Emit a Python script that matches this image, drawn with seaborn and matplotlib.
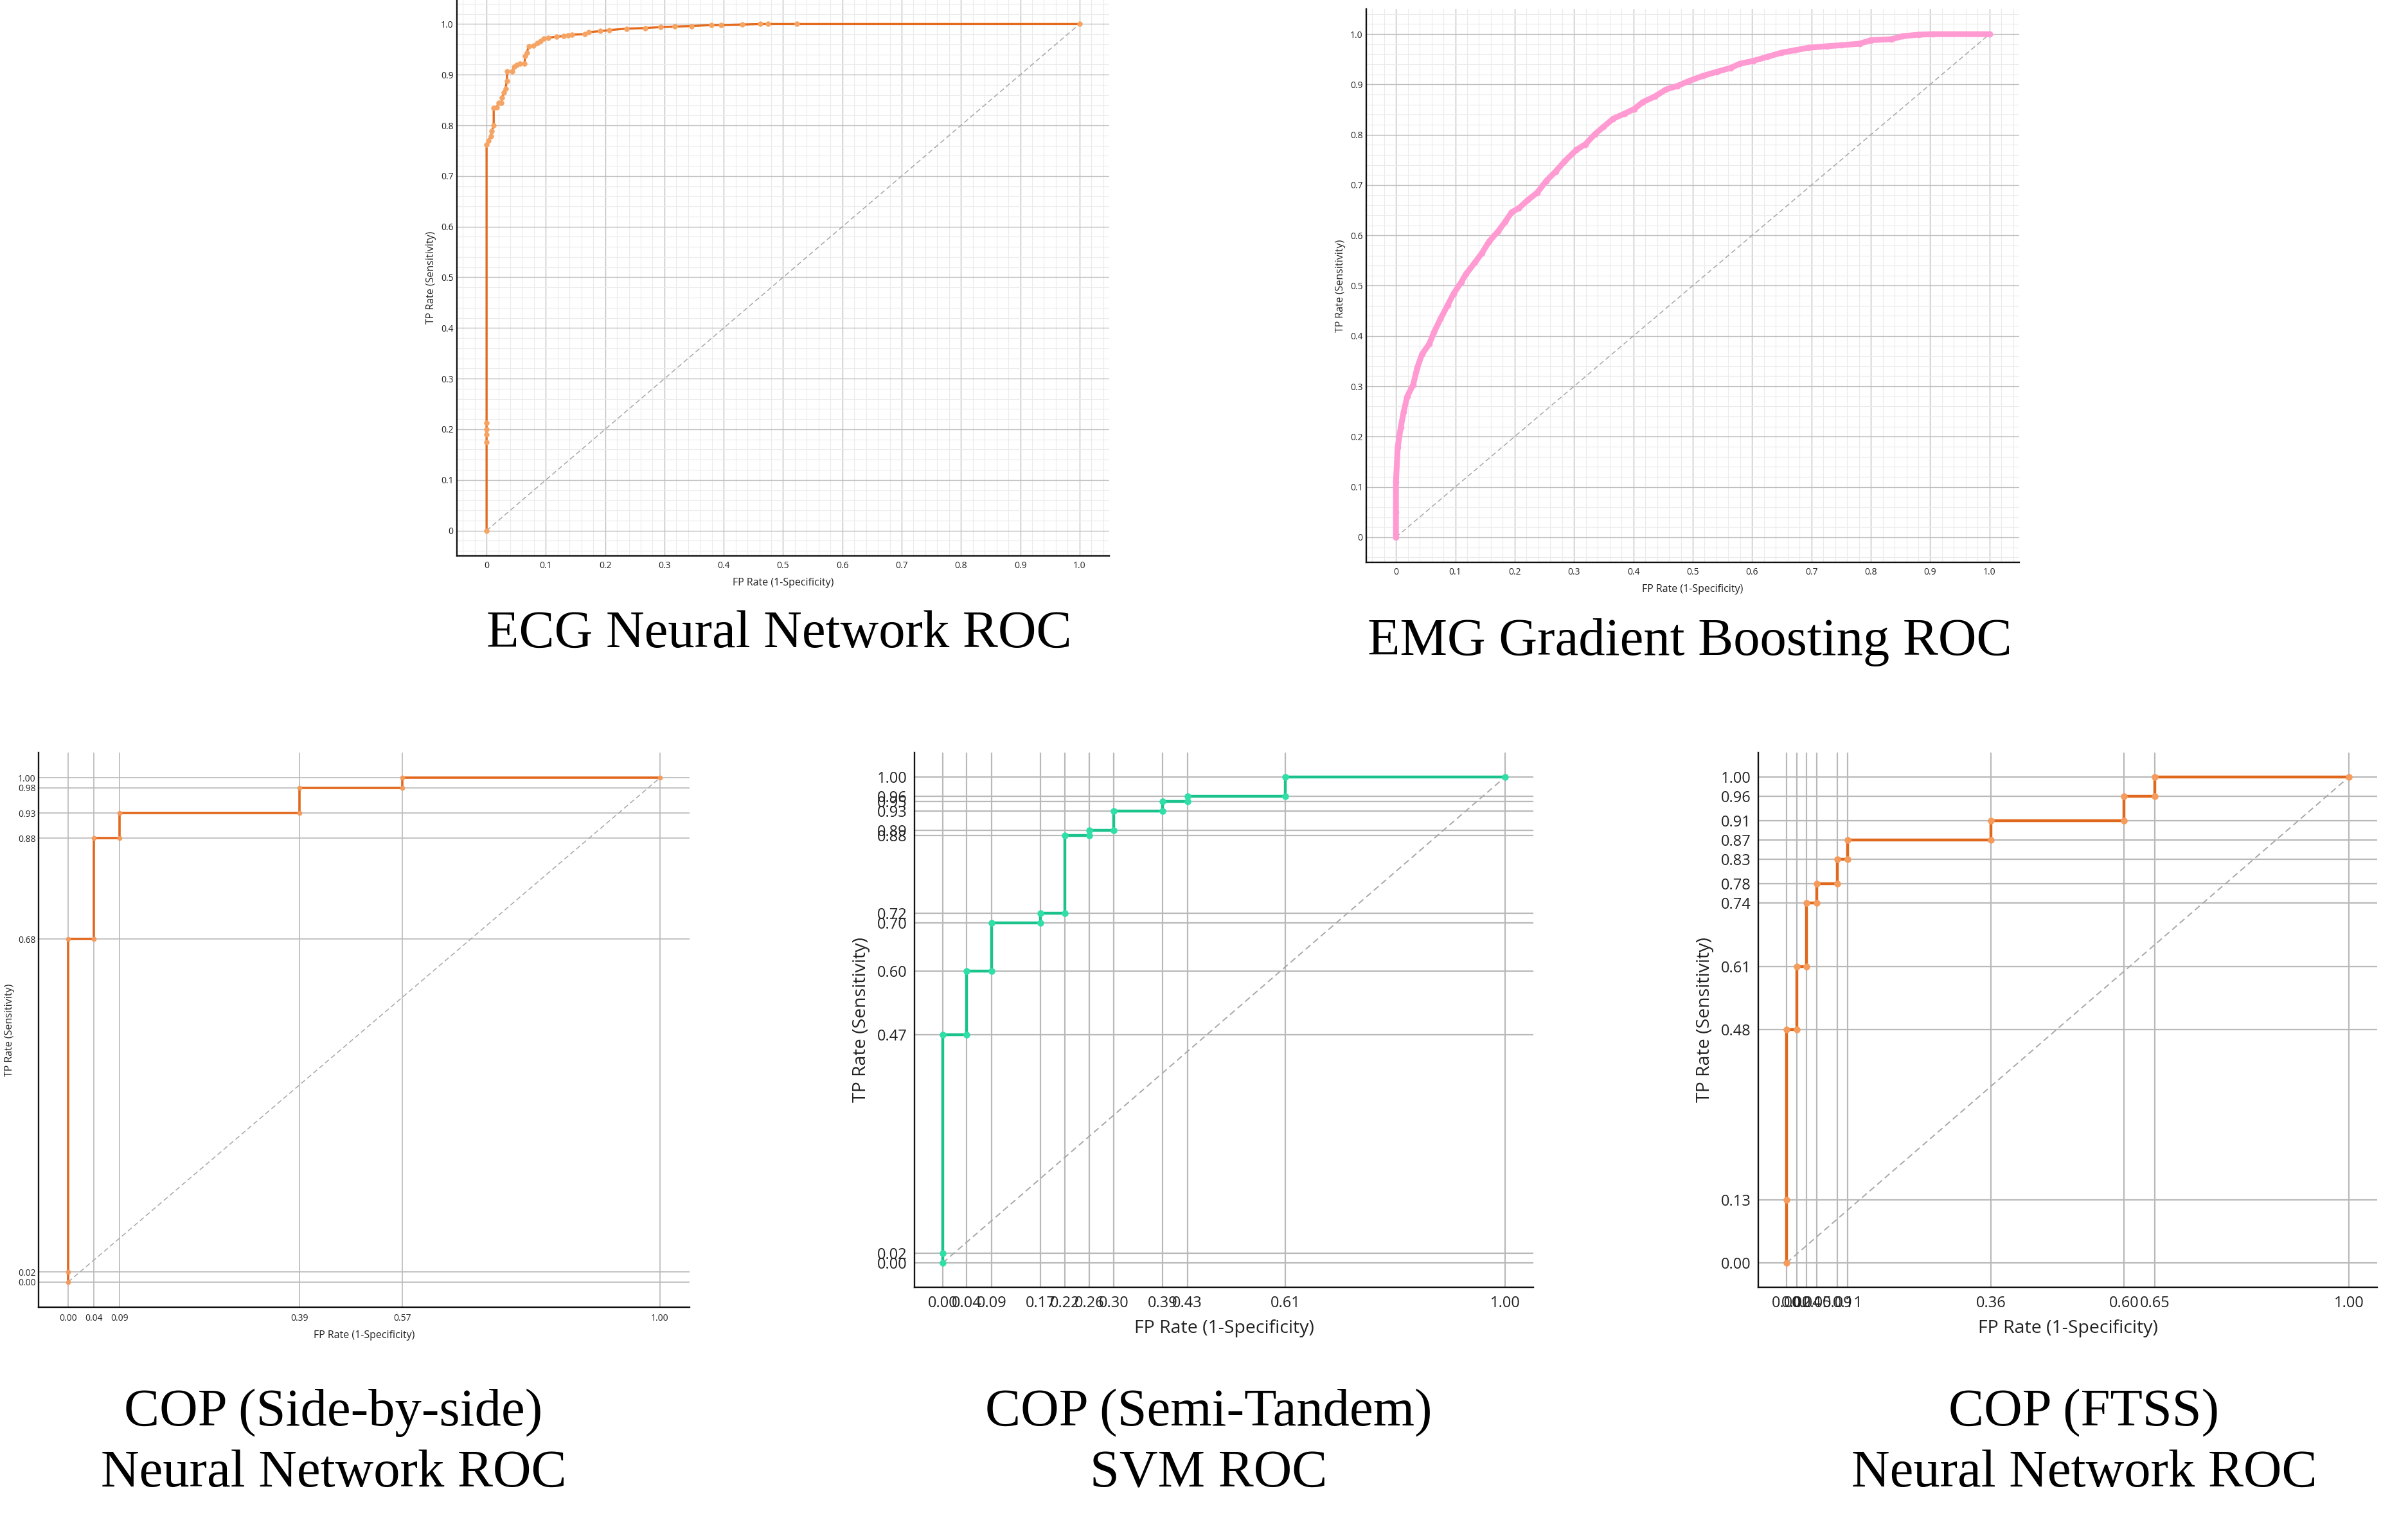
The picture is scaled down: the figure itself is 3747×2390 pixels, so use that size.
import numpy as np
import seaborn as sns
import matplotlib.pyplot as plt
from matplotlib.ticker import FixedLocator

# ---- ECG neural network ROC ----
ecg_fpr = [0, 0, 0, 0, 0, 0, 0.003, 0.007, 0.009, 0.012, 0.012, 0.017, 0.020, 0.025,
           0.026, 0.029, 0.032, 0.034, 0.035, 0.043, 0.046, 0.051, 0.056, 0.064, 0.065,
           0.068, 0.071, 0.079, 0.085, 0.091, 0.096, 0.104, 0.118, 0.130, 0.137, 0.144,
           0.166, 0.172, 0.192, 0.207, 0.236, 0.267, 0.294, 0.317, 0.346, 0.379, 0.395,
           0.431, 0.461, 0.475, 0.523, 1.0]
ecg_tpr = [0, 0.175, 0.19, 0.20, 0.213, 0.762, 0.770, 0.778, 0.789, 0.800, 0.834, 0.836,
           0.844, 0.845, 0.854, 0.865, 0.873, 0.887, 0.906, 0.906, 0.915, 0.919, 0.922,
           0.922, 0.937, 0.944, 0.956, 0.957, 0.962, 0.966, 0.971, 0.973, 0.975, 0.976,
           0.978, 0.979, 0.980, 0.984, 0.986, 0.988, 0.991, 0.992, 0.994, 0.995, 0.996,
           0.998, 0.998, 0.999, 1.0, 1.0, 1.0, 1.0]

# ---- EMG gradient boosting ROC ----
emg_fpr = [0, 0, 0, 0.003, 0.008, 0.013, 0.019, 0.029, 0.036, 0.044, 0.056, 0.064, 0.075,
           0.087, 0.097, 0.110, 0.118, 0.133, 0.145, 0.157, 0.172, 0.184, 0.195, 0.207,
           0.222, 0.238, 0.253, 0.269, 0.284, 0.304, 0.319, 0.335, 0.350, 0.366, 0.385,
           0.401, 0.416, 0.436, 0.455, 0.474, 0.494, 0.517, 0.540, 0.564, 0.579, 0.602,
           0.626, 0.649, 0.672, 0.695, 0.726, 0.750, 0.781, 0.800, 0.835, 0.854, 0.881,
           0.905, 1.0]
emg_tpr = [0, 0.05, 0.11, 0.179, 0.218, 0.249, 0.280, 0.303, 0.337, 0.364, 0.384, 0.407,
           0.434, 0.461, 0.484, 0.507, 0.523, 0.546, 0.565, 0.588, 0.608, 0.627, 0.646,
           0.654, 0.670, 0.685, 0.708, 0.727, 0.747, 0.770, 0.781, 0.801, 0.816, 0.832,
           0.842, 0.851, 0.865, 0.876, 0.890, 0.897, 0.907, 0.917, 0.925, 0.933, 0.941,
           0.947, 0.955, 0.963, 0.968, 0.973, 0.976, 0.978, 0.981, 0.988, 0.990, 0.996,
           0.999, 1.0, 1.0]

# ---- COP side-by-side, neural network ----
sbs_fpr = [0, 0, 0, 0.043, 0.043, 0.087, 0.087, 0.391, 0.391, 0.565, 0.565, 1.0]
sbs_tpr = [0, 0.02, 0.68, 0.68, 0.88, 0.88, 0.93, 0.93, 0.98, 0.98, 1.0, 1.0]
sbs_xticks = [0, 0.043, 0.087, 0.391, 0.565, 1.0]
sbs_xlabels = ['0.00', '0.04', '0.09', '0.39', '0.57', '1.00']
sbs_yticks = [0, 0.02, 0.68, 0.88, 0.93, 0.98, 1.0]
sbs_ylabels = ['0.00', '0.02', '0.68', '0.88', '0.93', '0.98', '1.00']

# ---- COP semi-tandem, SVM ----
st_fpr = [0, 0, 0, 0.043, 0.043, 0.087, 0.087, 0.174, 0.174, 0.217, 0.217, 0.261, 0.261,
          0.304, 0.304, 0.391, 0.391, 0.435, 0.435, 0.609, 0.609, 1.0]
st_tpr = [0, 0.02, 0.47, 0.47, 0.60, 0.60, 0.70, 0.70, 0.72, 0.72, 0.88, 0.88, 0.89, 0.89,
          0.93, 0.93, 0.95, 0.95, 0.96, 0.96, 1.0, 1.0]
st_xticks = [0, 0.043, 0.087, 0.174, 0.217, 0.261, 0.304, 0.391, 0.435, 0.609, 1.0]
st_xlabels = ['0.00', '0.04', '0.09', '0.17', '0.22', '0.26', '0.30', '0.39', '0.43',
              '0.61', '1.00']
st_yticks = [0, 0.02, 0.47, 0.60, 0.70, 0.72, 0.88, 0.89, 0.93, 0.95, 0.96, 1.0]
st_ylabels = ['0.00', '0.02', '0.47', '0.60', '0.70', '0.72', '0.88', '0.89', '0.93',
              '0.95', '0.96', '1.00']

# ---- COP FTSS, neural network ----
ftss_fpr = [0, 0, 0, 0.018, 0.018, 0.036, 0.036, 0.0545, 0.0545, 0.091, 0.091, 0.109,
            0.109, 0.364, 0.364, 0.600, 0.600, 0.6545, 0.6545, 1.0]
ftss_tpr = [0, 0.13, 0.48, 0.48, 0.61, 0.61, 0.74, 0.74, 0.78, 0.78, 0.83, 0.83, 0.87,
            0.87, 0.91, 0.91, 0.96, 0.96, 1.0, 1.0]
ftss_xticks = [0, 0.018, 0.036, 0.0545, 0.091, 0.109, 0.364, 0.600, 0.6545, 1.0]
ftss_xlabels = ['0.00', '0.02', '0.04', '0.05', '0.09', '0.11', '0.36', '0.60', '0.65',
                '1.00']
ftss_yticks = [0, 0.13, 0.48, 0.61, 0.74, 0.78, 0.83, 0.87, 0.91, 0.96, 1.0]
ftss_ylabels = ['0.00', '0.13', '0.48', '0.61', '0.74', '0.78', '0.83', '0.87', '0.91',
                '0.96', '1.00']

decimal_ticks = [0, 0.1, 0.2, 0.3, 0.4, 0.5, 0.6, 0.7, 0.8, 0.9, 1.0]
decimal_labels = ['0', '0.1', '0.2', '0.3', '0.4', '0.5', '0.6', '0.7', '0.8', '0.9', '1.0']
diag = [0, 1]

W, H = 3748, 2390
sns.set_theme(style="white")
plt.rcParams['font.family'] = ['Open Sans', 'DejaVu Sans']
plt.rcParams['axes.unicode_minus'] = False

fig = plt.figure(figsize=(W / 100, H / 100), dpi=100)


def px_rect(left, top, right, bottom):
    return [left / W, 1 - bottom / H, (right - left) / W, (bottom - top) / H]


def roc_panel(rect, fpr, tpr, line_color, marker_color, lw, ms,
              tick_size, label_size, xpad, ypad, xlabelpad, ylabelpad,
              xticks=None, xlabels=None, yticks=None, ylabels=None, minor=False,
              grid_lw=1.0, diag_lw=1.1):
    ax = fig.add_axes(rect)
    ax.set_xlim(-0.05, 1.05)
    ax.set_ylim(-0.05, 1.05)

    if xticks is None:
        ax.set_xticks(decimal_ticks, decimal_labels)
        ax.set_yticks(decimal_ticks, decimal_labels)
    else:
        ax.set_xticks(xticks, xlabels)
        ax.set_yticks(yticks, ylabels)

    if minor:
        minors = np.round(np.arange(-0.04, 1.05, 0.02), 2)
        ax.xaxis.set_minor_locator(FixedLocator(minors))
        ax.yaxis.set_minor_locator(FixedLocator(minors))
        ax.grid(which='minor', color='#ebebeb', linewidth=0.8)
        ax.grid(which='major', color='#bfbfbf', linewidth=grid_lw)
    else:
        ax.grid(which='major', color='#b9b9b9', linewidth=grid_lw)
    ax.set_axisbelow(True)

    ax.tick_params(axis='both', which='both', length=0, labelsize=tick_size,
                   colors='#222222')
    ax.tick_params(axis='x', pad=xpad)
    ax.tick_params(axis='y', pad=ypad)

    for side in ['top', 'right']:
        ax.spines[side].set_visible(False)
    for side in ['left', 'bottom']:
        ax.spines[side].set_color('#111111')
        ax.spines[side].set_linewidth(1.7)

    ax.plot(diag, diag, linestyle=(0, (5, 3)), color='#a8a8a8', linewidth=diag_lw,
            zorder=2)

    sns.lineplot(x=fpr, y=tpr, ax=ax, sort=False, estimator=None,
                 color=line_color, linewidth=lw, marker='o', markersize=ms,
                 markerfacecolor=marker_color, markeredgecolor=marker_color,
                 markeredgewidth=0.5, zorder=3)

    ax.set_xlabel('FP Rate (1-Specificity)', fontsize=label_size, labelpad=xlabelpad,
                  color='#222222')
    ax.set_ylabel('TP Rate (Sensitivity)', fontsize=label_size, labelpad=ylabelpad,
                  color='#222222')
    return ax


# top row
roc_panel(px_rect(711, -2, 1726, 865), ecg_fpr, ecg_tpr, '#e46a1c', '#f6a463',
          lw=2.4, ms=5.5, tick_size=10, label_size=11.5, xpad=6, ypad=4,
          xlabelpad=8, ylabelpad=5, minor=True)
roc_panel(px_rect(2126, 14, 3142, 875), emg_fpr, emg_tpr, '#ff9bd2', '#ff9bd2',
          lw=6.5, ms=6.5, tick_size=10, label_size=11.5, xpad=6, ypad=4,
          xlabelpad=8, ylabelpad=5, minor=True)

# bottom row
roc_panel(px_rect(60, 1171, 1073, 2034), sbs_fpr, sbs_tpr, '#e2661c', '#f39a5c',
          lw=2.6, ms=5.0, tick_size=10, label_size=11.5, xpad=7, ypad=3,
          xlabelpad=8, ylabelpad=4, xticks=sbs_xticks, xlabels=sbs_xlabels,
          yticks=sbs_yticks, ylabels=sbs_ylabels, grid_lw=1.2)
roc_panel(px_rect(1423, 1171, 2386, 2003), st_fpr, st_tpr, '#1bc28c', '#30dea8',
          lw=3.2, ms=7.0, tick_size=17, label_size=20.5, xpad=9, ypad=8,
          xlabelpad=10, ylabelpad=8, xticks=st_xticks, xlabels=st_xlabels,
          yticks=st_yticks, ylabels=st_ylabels, grid_lw=1.6, diag_lw=1.4)
roc_panel(px_rect(2736, 1171, 3699, 2003), ftss_fpr, ftss_tpr, '#e0681c', '#f59b5c',
          lw=3.2, ms=7.0, tick_size=17, label_size=20.5, xpad=9, ypad=8,
          xlabelpad=10, ylabelpad=8, xticks=ftss_xticks, xlabels=ftss_xlabels,
          yticks=ftss_yticks, ylabels=ftss_ylabels, grid_lw=1.6, diag_lw=1.4)

# panel captions
serif = ['Liberation Serif', 'DejaVu Serif']
captions = [
    (1212, 987, 'ECG Neural Network ROC'),
    (2629, 999, 'EMG Gradient Boosting ROC'),
    (519, 2246, 'COP (Side-by-side)\nNeural Network ROC'),
    (1881, 2246, 'COP (Semi-Tandem)\nSVM ROC'),
    (3243, 2246, 'COP (FTSS)\nNeural Network ROC'),
]
for cx, cy, text in captions:
    fig.text(cx / W, 1 - cy / H, text, ha='center', va='center', fontsize=59.5,
             family=serif, linespacing=1.34, color='black')

fig.savefig('out.png', dpi=100, facecolor='white')
